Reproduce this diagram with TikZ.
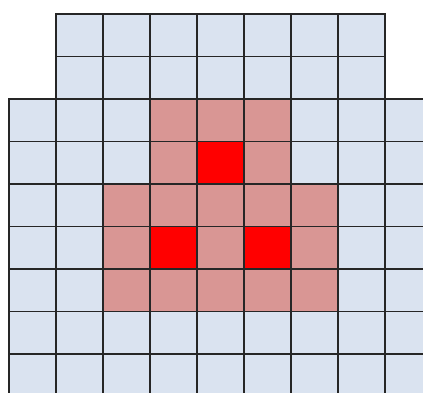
\documentclass[tikz,border=0pt]{standalone}
\usepackage{tikz}
\definecolor{cellblue}{RGB}{218,227,240}
\definecolor{cellpink}{RGB}{217,150,148}
\definecolor{cellred}{RGB}{255,0,0}
\tikzset{cell/.style={draw=black!85,line width=1.8pt}}

\begin{document}
\begin{tikzpicture}[x=1pt,y=-1pt]
  \def\cw{47}
  \def\ch{42.5}
  \def\xo{8.7}
  \def\yo{14}
  \useasboundingbox (0,0) rectangle (423,392);
  \clip (0,0) rectangle (423,392);
  % narrow top rows
  \foreach \r in {0,1} \foreach \c in {1,...,7}
    \draw[cell,fill=cellblue] ({\xo+\c*\cw},{\yo+\r*\ch}) rectangle +(\cw,\ch);
  % full rows
  \foreach \r in {2,...,8} \foreach \c in {0,...,8}
    \draw[cell,fill=cellblue] ({\xo+\c*\cw},{\yo+\r*\ch}) rectangle +(\cw,\ch);
  % neighbourhood
  \foreach \c/\r in {3/2,4/2,5/2,3/3,5/3,2/4,3/4,4/4,5/4,6/4,2/5,4/5,6/5,2/6,3/6,4/6,5/6,6/6}
    \draw[cell,fill=cellpink] ({\xo+\c*\cw},{\yo+\r*\ch}) rectangle +(\cw,\ch);
  \foreach \c/\r in {4/3,3/5,5/5}
    \draw[cell,fill=cellred] ({\xo+\c*\cw},{\yo+\r*\ch}) rectangle +(\cw,\ch);
\end{tikzpicture}
\end{document}
